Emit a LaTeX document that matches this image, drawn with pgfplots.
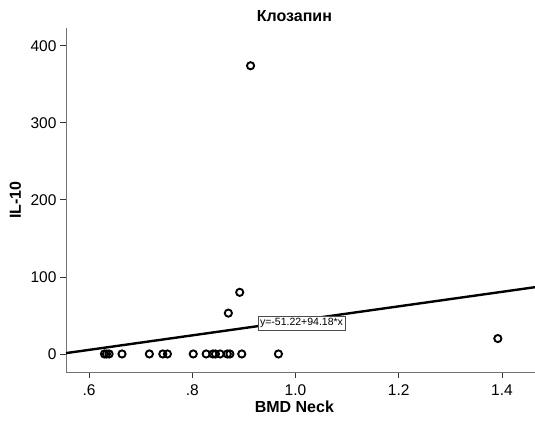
\documentclass[border=0pt]{standalone}
\usepackage{pgfplots}
\pgfplotsset{compat=1.18}
\usepackage{fontspec}
\setmainfont{Liberation Sans}
\begin{document}
\begin{tikzpicture}
\begin{axis}[
  at={(0,0)}, anchor=south west,
  scale only axis, width=469pt, height=344pt,
  xmin=0.5555, xmax=1.464, ymin=-23.4, ymax=423,
  axis x line*=bottom, axis y line*=left,
  axis line style={draw=black!55, line width=0.8pt, -},
  xtick={0.6,0.8,1.0,1.2,1.4},
  xticklabels={.6,.8,1.0,1.2,1.4},
  ytick={0,100,200,300,400},
  tick align=outside, major tick length=6pt,
  tick style={draw=black!80, line width=0.8pt},
  /pgf/number format/assume math mode=true,
  tick label style={font=\fontsize{15.5}{18}\selectfont, text=black},
  xticklabel style={yshift=-3pt},
  title={\textbf{Клозапин}},
  title style={font=\fontsize{16}{19}\selectfont, at={(rel axis cs:0.487,1)}, anchor=base, yshift=0pt},
  xlabel={\textbf{BMD Neck}},
  xlabel style={font=\fontsize{16}{19}\selectfont, at={(rel axis cs:0.487,0)}, anchor=base, yshift=-41pt},
  ylabel={\textbf{IL-10}},
  ylabel style={font=\fontsize{16}{19}\selectfont, at={(rel axis cs:-0.096,0.5)}, anchor=base, rotate=0},
  clip=false,
]
\addplot[black, line width=2.4pt] coordinates {(0.5555,1.10) (1.464,86.66)};
\addplot[only marks, mark=o, mark size=3.6pt, mark options={line width=1.9pt, draw=black}] coordinates {
(0.630,0) (0.634,0) (0.639,0) (0.664,0) (0.717,0) (0.743,0) (0.752,0) (0.802,0)
(0.827,0) (0.840,0) (0.845,0) (0.854,0) (0.868,0) (0.873,0) (0.896,0) (0.967,0)
(0.913,374) (0.892,80) (0.870,53) (1.392,20)
};
\node[draw=black!70, fill=white, line width=0.6pt, anchor=west, inner sep=2pt, minimum height=14pt, font=\fontsize{10.5}{12}\selectfont] at (axis cs:0.927,40.3) {y=-51.22+94.18*x};
\end{axis}
\pgfresetboundingbox
\path (-66pt,-58pt) rectangle (469pt,372pt);
\end{tikzpicture}
\end{document}
